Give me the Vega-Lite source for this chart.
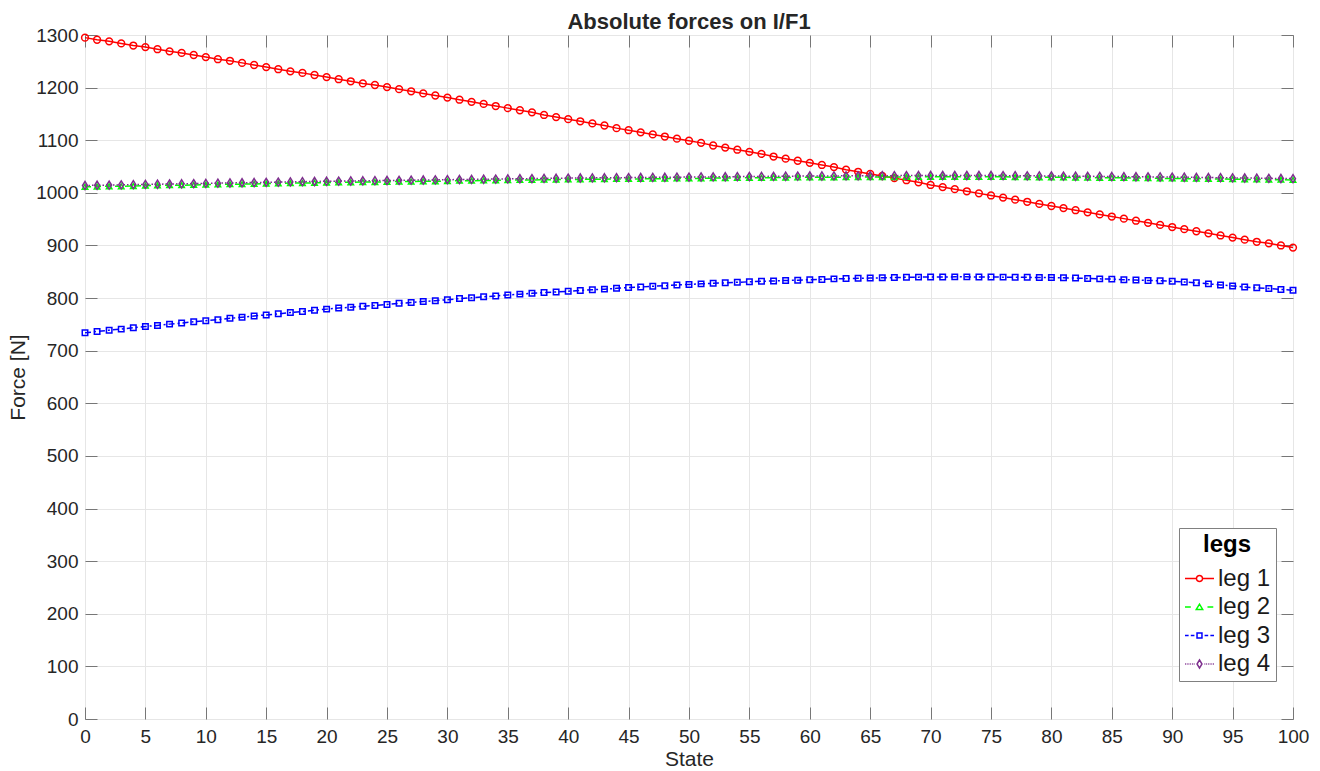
{
"$schema":"https://vega.github.io/schema/vega-lite/v6.json",
"width":1208,"height":684,
"autosize":{"type":"none"},
"padding":{"left":85,"top":35,"right":27,"bottom":53},
"background":"white",
"title":{"text":"Absolute forces on I/F1","fontSize":22,"fontWeight":"bold","font":"Liberation Sans","color":"#262626","anchor":"middle","offset":-8},
"config":{"font":"Liberation Sans","view":{"stroke":"#777","strokeWidth":1}},
"datasets":{"d":[
{"state":0,"leg":"leg 1","force":1295},{"state":1,"leg":"leg 1","force":1291},{"state":2,"leg":"leg 1","force":1288},{"state":3,"leg":"leg 1","force":1284},{"state":4,"leg":"leg 1","force":1280},{"state":5,"leg":"leg 1","force":1277},{"state":6,"leg":"leg 1","force":1273},{"state":7,"leg":"leg 1","force":1269},{"state":8,"leg":"leg 1","force":1266},{"state":9,"leg":"leg 1","force":1262},
{"state":10,"leg":"leg 1","force":1258},{"state":11,"leg":"leg 1","force":1254},{"state":12,"leg":"leg 1","force":1251},{"state":13,"leg":"leg 1","force":1247},{"state":14,"leg":"leg 1","force":1243},{"state":15,"leg":"leg 1","force":1239},{"state":16,"leg":"leg 1","force":1235},{"state":17,"leg":"leg 1","force":1231},{"state":18,"leg":"leg 1","force":1228},{"state":19,"leg":"leg 1","force":1224},
{"state":20,"leg":"leg 1","force":1220},{"state":21,"leg":"leg 1","force":1216},{"state":22,"leg":"leg 1","force":1212},{"state":23,"leg":"leg 1","force":1208},{"state":24,"leg":"leg 1","force":1205},{"state":25,"leg":"leg 1","force":1201},{"state":26,"leg":"leg 1","force":1197},{"state":27,"leg":"leg 1","force":1193},{"state":28,"leg":"leg 1","force":1189},{"state":29,"leg":"leg 1","force":1185},
{"state":30,"leg":"leg 1","force":1181},{"state":31,"leg":"leg 1","force":1177},{"state":32,"leg":"leg 1","force":1173},{"state":33,"leg":"leg 1","force":1169},{"state":34,"leg":"leg 1","force":1165},{"state":35,"leg":"leg 1","force":1161},{"state":36,"leg":"leg 1","force":1157},{"state":37,"leg":"leg 1","force":1153},{"state":38,"leg":"leg 1","force":1148},{"state":39,"leg":"leg 1","force":1144},
{"state":40,"leg":"leg 1","force":1140},{"state":41,"leg":"leg 1","force":1136},{"state":42,"leg":"leg 1","force":1132},{"state":43,"leg":"leg 1","force":1128},{"state":44,"leg":"leg 1","force":1123},{"state":45,"leg":"leg 1","force":1119},{"state":46,"leg":"leg 1","force":1115},{"state":47,"leg":"leg 1","force":1111},{"state":48,"leg":"leg 1","force":1107},{"state":49,"leg":"leg 1","force":1103},
{"state":50,"leg":"leg 1","force":1099},{"state":51,"leg":"leg 1","force":1095},{"state":52,"leg":"leg 1","force":1090},{"state":53,"leg":"leg 1","force":1086},{"state":54,"leg":"leg 1","force":1082},{"state":55,"leg":"leg 1","force":1078},{"state":56,"leg":"leg 1","force":1074},{"state":57,"leg":"leg 1","force":1069},{"state":58,"leg":"leg 1","force":1065},{"state":59,"leg":"leg 1","force":1061},
{"state":60,"leg":"leg 1","force":1057},{"state":61,"leg":"leg 1","force":1053},{"state":62,"leg":"leg 1","force":1049},{"state":63,"leg":"leg 1","force":1044},{"state":64,"leg":"leg 1","force":1040},{"state":65,"leg":"leg 1","force":1036},{"state":66,"leg":"leg 1","force":1032},{"state":67,"leg":"leg 1","force":1028},{"state":68,"leg":"leg 1","force":1024},{"state":69,"leg":"leg 1","force":1020},
{"state":70,"leg":"leg 1","force":1015},{"state":71,"leg":"leg 1","force":1011},{"state":72,"leg":"leg 1","force":1007},{"state":73,"leg":"leg 1","force":1003},{"state":74,"leg":"leg 1","force":999},{"state":75,"leg":"leg 1","force":995},{"state":76,"leg":"leg 1","force":991},{"state":77,"leg":"leg 1","force":987},{"state":78,"leg":"leg 1","force":983},{"state":79,"leg":"leg 1","force":979},
{"state":80,"leg":"leg 1","force":975},{"state":81,"leg":"leg 1","force":971},{"state":82,"leg":"leg 1","force":967},{"state":83,"leg":"leg 1","force":963},{"state":84,"leg":"leg 1","force":959},{"state":85,"leg":"leg 1","force":955},{"state":86,"leg":"leg 1","force":951},{"state":87,"leg":"leg 1","force":947},{"state":88,"leg":"leg 1","force":943},{"state":89,"leg":"leg 1","force":939},
{"state":90,"leg":"leg 1","force":935},{"state":91,"leg":"leg 1","force":931},{"state":92,"leg":"leg 1","force":927},{"state":93,"leg":"leg 1","force":923},{"state":94,"leg":"leg 1","force":919},{"state":95,"leg":"leg 1","force":915},{"state":96,"leg":"leg 1","force":911},{"state":97,"leg":"leg 1","force":907},{"state":98,"leg":"leg 1","force":904},{"state":99,"leg":"leg 1","force":900},{"state":100,"leg":"leg 1","force":896},
{"state":0,"leg":"leg 2","force":1011.5},{"state":1,"leg":"leg 2","force":1012},{"state":2,"leg":"leg 2","force":1012.5},{"state":3,"leg":"leg 2","force":1012.5},{"state":4,"leg":"leg 2","force":1013},{"state":5,"leg":"leg 2","force":1013.5},{"state":6,"leg":"leg 2","force":1014},{"state":7,"leg":"leg 2","force":1014.5},{"state":8,"leg":"leg 2","force":1014.5},{"state":9,"leg":"leg 2","force":1015},
{"state":10,"leg":"leg 2","force":1015.5},{"state":11,"leg":"leg 2","force":1016},{"state":12,"leg":"leg 2","force":1016.5},{"state":13,"leg":"leg 2","force":1016.5},{"state":14,"leg":"leg 2","force":1017},{"state":15,"leg":"leg 2","force":1017.5},{"state":16,"leg":"leg 2","force":1018},{"state":17,"leg":"leg 2","force":1018.5},{"state":18,"leg":"leg 2","force":1018.5},{"state":19,"leg":"leg 2","force":1019},
{"state":20,"leg":"leg 2","force":1019.5},{"state":21,"leg":"leg 2","force":1020},{"state":22,"leg":"leg 2","force":1020},{"state":23,"leg":"leg 2","force":1020.5},{"state":24,"leg":"leg 2","force":1020.5},{"state":25,"leg":"leg 2","force":1021},{"state":26,"leg":"leg 2","force":1021.5},{"state":27,"leg":"leg 2","force":1021.5},{"state":28,"leg":"leg 2","force":1022},{"state":29,"leg":"leg 2","force":1022},
{"state":30,"leg":"leg 2","force":1022.5},{"state":31,"leg":"leg 2","force":1023},{"state":32,"leg":"leg 2","force":1023},{"state":33,"leg":"leg 2","force":1023.5},{"state":34,"leg":"leg 2","force":1023.5},{"state":35,"leg":"leg 2","force":1024},{"state":36,"leg":"leg 2","force":1024.5},{"state":37,"leg":"leg 2","force":1024.5},{"state":38,"leg":"leg 2","force":1025},{"state":39,"leg":"leg 2","force":1025},
{"state":40,"leg":"leg 2","force":1025.5},{"state":41,"leg":"leg 2","force":1025.5},{"state":42,"leg":"leg 2","force":1026},{"state":43,"leg":"leg 2","force":1026},{"state":44,"leg":"leg 2","force":1026.5},{"state":45,"leg":"leg 2","force":1026.5},{"state":46,"leg":"leg 2","force":1026.5},{"state":47,"leg":"leg 2","force":1027},{"state":48,"leg":"leg 2","force":1027},{"state":49,"leg":"leg 2","force":1027.5},
{"state":50,"leg":"leg 2","force":1027.5},{"state":51,"leg":"leg 2","force":1027.5},{"state":52,"leg":"leg 2","force":1028},{"state":53,"leg":"leg 2","force":1028},{"state":54,"leg":"leg 2","force":1028.5},{"state":55,"leg":"leg 2","force":1028.5},{"state":56,"leg":"leg 2","force":1028.5},{"state":57,"leg":"leg 2","force":1029},{"state":58,"leg":"leg 2","force":1029},{"state":59,"leg":"leg 2","force":1029.5},
{"state":60,"leg":"leg 2","force":1029.5},{"state":61,"leg":"leg 2","force":1029.5},{"state":62,"leg":"leg 2","force":1029.5},{"state":63,"leg":"leg 2","force":1030},{"state":64,"leg":"leg 2","force":1030},{"state":65,"leg":"leg 2","force":1030},{"state":66,"leg":"leg 2","force":1030},{"state":67,"leg":"leg 2","force":1030},{"state":68,"leg":"leg 2","force":1030.5},{"state":69,"leg":"leg 2","force":1030.5},
{"state":70,"leg":"leg 2","force":1030.5},{"state":71,"leg":"leg 2","force":1030.5},{"state":72,"leg":"leg 2","force":1030.5},{"state":73,"leg":"leg 2","force":1030.5},{"state":74,"leg":"leg 2","force":1030.5},{"state":75,"leg":"leg 2","force":1030.5},{"state":76,"leg":"leg 2","force":1030.5},{"state":77,"leg":"leg 2","force":1030},{"state":78,"leg":"leg 2","force":1030},{"state":79,"leg":"leg 2","force":1029.5},
{"state":80,"leg":"leg 2","force":1029.5},{"state":81,"leg":"leg 2","force":1029.5},{"state":82,"leg":"leg 2","force":1029},{"state":83,"leg":"leg 2","force":1029},{"state":84,"leg":"leg 2","force":1028.5},{"state":85,"leg":"leg 2","force":1028.5},{"state":86,"leg":"leg 2","force":1028.5},{"state":87,"leg":"leg 2","force":1028},{"state":88,"leg":"leg 2","force":1028},{"state":89,"leg":"leg 2","force":1027.5},
{"state":90,"leg":"leg 2","force":1027.5},{"state":91,"leg":"leg 2","force":1027},{"state":92,"leg":"leg 2","force":1027},{"state":93,"leg":"leg 2","force":1026.5},{"state":94,"leg":"leg 2","force":1026.5},{"state":95,"leg":"leg 2","force":1026},{"state":96,"leg":"leg 2","force":1025.5},{"state":97,"leg":"leg 2","force":1025.5},{"state":98,"leg":"leg 2","force":1025},{"state":99,"leg":"leg 2","force":1025},{"state":100,"leg":"leg 2","force":1024.5},
{"state":0,"leg":"leg 3","force":734},{"state":1,"leg":"leg 3","force":736.5},{"state":2,"leg":"leg 3","force":739},{"state":3,"leg":"leg 3","force":741},{"state":4,"leg":"leg 3","force":743.5},{"state":5,"leg":"leg 3","force":746},{"state":6,"leg":"leg 3","force":748},{"state":7,"leg":"leg 3","force":750.5},{"state":8,"leg":"leg 3","force":752.5},{"state":9,"leg":"leg 3","force":755},
{"state":10,"leg":"leg 3","force":757},{"state":11,"leg":"leg 3","force":759},{"state":12,"leg":"leg 3","force":761.5},{"state":13,"leg":"leg 3","force":763.5},{"state":14,"leg":"leg 3","force":766},{"state":15,"leg":"leg 3","force":768},{"state":16,"leg":"leg 3","force":770},{"state":17,"leg":"leg 3","force":772.5},{"state":18,"leg":"leg 3","force":774.5},{"state":19,"leg":"leg 3","force":777},
{"state":20,"leg":"leg 3","force":779},{"state":21,"leg":"leg 3","force":781},{"state":22,"leg":"leg 3","force":782.5},{"state":23,"leg":"leg 3","force":784.5},{"state":24,"leg":"leg 3","force":786},{"state":25,"leg":"leg 3","force":788},{"state":26,"leg":"leg 3","force":790},{"state":27,"leg":"leg 3","force":791.5},{"state":28,"leg":"leg 3","force":793.5},{"state":29,"leg":"leg 3","force":795},
{"state":30,"leg":"leg 3","force":797},{"state":31,"leg":"leg 3","force":799},{"state":32,"leg":"leg 3","force":800.5},{"state":33,"leg":"leg 3","force":802.5},{"state":34,"leg":"leg 3","force":804},{"state":35,"leg":"leg 3","force":806},{"state":36,"leg":"leg 3","force":807.5},{"state":37,"leg":"leg 3","force":809},{"state":38,"leg":"leg 3","force":810.5},{"state":39,"leg":"leg 3","force":811.5},
{"state":40,"leg":"leg 3","force":813},{"state":41,"leg":"leg 3","force":814.5},{"state":42,"leg":"leg 3","force":816},{"state":43,"leg":"leg 3","force":817},{"state":44,"leg":"leg 3","force":818.5},{"state":45,"leg":"leg 3","force":820},{"state":46,"leg":"leg 3","force":821},{"state":47,"leg":"leg 3","force":822.5},{"state":48,"leg":"leg 3","force":823.5},{"state":49,"leg":"leg 3","force":825},
{"state":50,"leg":"leg 3","force":826},{"state":51,"leg":"leg 3","force":827},{"state":52,"leg":"leg 3","force":828},{"state":53,"leg":"leg 3","force":829},{"state":54,"leg":"leg 3","force":830},{"state":55,"leg":"leg 3","force":831},{"state":56,"leg":"leg 3","force":832},{"state":57,"leg":"leg 3","force":832.5},{"state":58,"leg":"leg 3","force":833.5},{"state":59,"leg":"leg 3","force":834},
{"state":60,"leg":"leg 3","force":835},{"state":61,"leg":"leg 3","force":835.5},{"state":62,"leg":"leg 3","force":836.5},{"state":63,"leg":"leg 3","force":837},{"state":64,"leg":"leg 3","force":837.5},{"state":65,"leg":"leg 3","force":838},{"state":66,"leg":"leg 3","force":838.5},{"state":67,"leg":"leg 3","force":839},{"state":68,"leg":"leg 3","force":839.5},{"state":69,"leg":"leg 3","force":839.8},
{"state":70,"leg":"leg 3","force":840},{"state":71,"leg":"leg 3","force":840.2},{"state":72,"leg":"leg 3","force":840.3},{"state":73,"leg":"leg 3","force":840.3},{"state":74,"leg":"leg 3","force":840.2},{"state":75,"leg":"leg 3","force":840},{"state":76,"leg":"leg 3","force":839.8},{"state":77,"leg":"leg 3","force":839.6},{"state":78,"leg":"leg 3","force":839.4},{"state":79,"leg":"leg 3","force":839.2},
{"state":80,"leg":"leg 3","force":839},{"state":81,"leg":"leg 3","force":838.5},{"state":82,"leg":"leg 3","force":838},{"state":83,"leg":"leg 3","force":837.2},{"state":84,"leg":"leg 3","force":836.5},{"state":85,"leg":"leg 3","force":836},{"state":86,"leg":"leg 3","force":835},{"state":87,"leg":"leg 3","force":834.3},{"state":88,"leg":"leg 3","force":833.5},{"state":89,"leg":"leg 3","force":832.8},
{"state":90,"leg":"leg 3","force":832},{"state":91,"leg":"leg 3","force":830.5},{"state":92,"leg":"leg 3","force":829},{"state":93,"leg":"leg 3","force":827},{"state":94,"leg":"leg 3","force":825},{"state":95,"leg":"leg 3","force":823},{"state":96,"leg":"leg 3","force":821},{"state":97,"leg":"leg 3","force":819.5},{"state":98,"leg":"leg 3","force":818},{"state":99,"leg":"leg 3","force":816.5},{"state":100,"leg":"leg 3","force":815},
{"state":0,"leg":"leg 4","force":1014},{"state":1,"leg":"leg 4","force":1014.4},{"state":2,"leg":"leg 4","force":1014.8},{"state":3,"leg":"leg 4","force":1015.2},{"state":4,"leg":"leg 4","force":1015.6},{"state":5,"leg":"leg 4","force":1016},{"state":6,"leg":"leg 4","force":1016.4},{"state":7,"leg":"leg 4","force":1016.8},{"state":8,"leg":"leg 4","force":1017.2},{"state":9,"leg":"leg 4","force":1017.6},
{"state":10,"leg":"leg 4","force":1018},{"state":11,"leg":"leg 4","force":1018.4},{"state":12,"leg":"leg 4","force":1018.8},{"state":13,"leg":"leg 4","force":1019.2},{"state":14,"leg":"leg 4","force":1019.6},{"state":15,"leg":"leg 4","force":1020},{"state":16,"leg":"leg 4","force":1020.4},{"state":17,"leg":"leg 4","force":1020.8},{"state":18,"leg":"leg 4","force":1021.2},{"state":19,"leg":"leg 4","force":1021.6},
{"state":20,"leg":"leg 4","force":1022},{"state":21,"leg":"leg 4","force":1022.3},{"state":22,"leg":"leg 4","force":1022.6},{"state":23,"leg":"leg 4","force":1022.9},{"state":24,"leg":"leg 4","force":1023.2},{"state":25,"leg":"leg 4","force":1023.5},{"state":26,"leg":"leg 4","force":1023.8},{"state":27,"leg":"leg 4","force":1024.1},{"state":28,"leg":"leg 4","force":1024.4},{"state":29,"leg":"leg 4","force":1024.7},
{"state":30,"leg":"leg 4","force":1025},{"state":31,"leg":"leg 4","force":1025.3},{"state":32,"leg":"leg 4","force":1025.6},{"state":33,"leg":"leg 4","force":1025.9},{"state":34,"leg":"leg 4","force":1026.2},{"state":35,"leg":"leg 4","force":1026.5},{"state":36,"leg":"leg 4","force":1026.8},{"state":37,"leg":"leg 4","force":1027.1},{"state":38,"leg":"leg 4","force":1027.4},{"state":39,"leg":"leg 4","force":1027.7},
{"state":40,"leg":"leg 4","force":1028},{"state":41,"leg":"leg 4","force":1028.2},{"state":42,"leg":"leg 4","force":1028.4},{"state":43,"leg":"leg 4","force":1028.6},{"state":44,"leg":"leg 4","force":1028.8},{"state":45,"leg":"leg 4","force":1029},{"state":46,"leg":"leg 4","force":1029.2},{"state":47,"leg":"leg 4","force":1029.4},{"state":48,"leg":"leg 4","force":1029.6},{"state":49,"leg":"leg 4","force":1029.8},
{"state":50,"leg":"leg 4","force":1030},{"state":51,"leg":"leg 4","force":1030.2},{"state":52,"leg":"leg 4","force":1030.4},{"state":53,"leg":"leg 4","force":1030.6},{"state":54,"leg":"leg 4","force":1030.8},{"state":55,"leg":"leg 4","force":1031},{"state":56,"leg":"leg 4","force":1031.2},{"state":57,"leg":"leg 4","force":1031.4},{"state":58,"leg":"leg 4","force":1031.6},{"state":59,"leg":"leg 4","force":1031.8},
{"state":60,"leg":"leg 4","force":1032},{"state":61,"leg":"leg 4","force":1032.1},{"state":62,"leg":"leg 4","force":1032.2},{"state":63,"leg":"leg 4","force":1032.3},{"state":64,"leg":"leg 4","force":1032.4},{"state":65,"leg":"leg 4","force":1032.5},{"state":66,"leg":"leg 4","force":1032.6},{"state":67,"leg":"leg 4","force":1032.7},{"state":68,"leg":"leg 4","force":1032.8},{"state":69,"leg":"leg 4","force":1032.9},
{"state":70,"leg":"leg 4","force":1033},{"state":71,"leg":"leg 4","force":1033},{"state":72,"leg":"leg 4","force":1033},{"state":73,"leg":"leg 4","force":1033},{"state":74,"leg":"leg 4","force":1033},{"state":75,"leg":"leg 4","force":1033},{"state":76,"leg":"leg 4","force":1032.8},{"state":77,"leg":"leg 4","force":1032.6},{"state":78,"leg":"leg 4","force":1032.4},{"state":79,"leg":"leg 4","force":1032.2},
{"state":80,"leg":"leg 4","force":1032},{"state":81,"leg":"leg 4","force":1031.8},{"state":82,"leg":"leg 4","force":1031.6},{"state":83,"leg":"leg 4","force":1031.4},{"state":84,"leg":"leg 4","force":1031.2},{"state":85,"leg":"leg 4","force":1031},{"state":86,"leg":"leg 4","force":1030.8},{"state":87,"leg":"leg 4","force":1030.6},{"state":88,"leg":"leg 4","force":1030.4},{"state":89,"leg":"leg 4","force":1030.2},
{"state":90,"leg":"leg 4","force":1030},{"state":91,"leg":"leg 4","force":1029.7},{"state":92,"leg":"leg 4","force":1029.4},{"state":93,"leg":"leg 4","force":1029.1},{"state":94,"leg":"leg 4","force":1028.8},{"state":95,"leg":"leg 4","force":1028.5},{"state":96,"leg":"leg 4","force":1028.2},{"state":97,"leg":"leg 4","force":1027.9},{"state":98,"leg":"leg 4","force":1027.6},{"state":99,"leg":"leg 4","force":1027.3},{"state":100,"leg":"leg 4","force":1027}
]},
"data":{"name":"d"},
"resolve":{"axis":{"x":"independent","y":"independent"}},
"layer":[
{"mark":{"type":"point","opacity":0,"filled":false,"strokeWidth":1.5},
 "encoding":{
  "x":{"field":"state","type":"quantitative","scale":{"domain":[0,100],"nice":false,"zero":false},
   "axis":{"orient":"bottom","values":[0,5,10,15,20,25,30,35,40,45,50,55,60,65,70,75,80,85,90,95,100],"format":"d","title":"State","titleFontSize":21,"titleFontWeight":"normal","titleColor":"#262626","titlePadding":2,"labelFontSize":19,"labelColor":"#262626","labelFlush":false,"labelOverlap":false,"tickSize":-12,"tickColor":"#777","labelPadding":20,"domain":false,"grid":true,"gridColor":"#e6e6e6"}},
  "y":{"field":"force","type":"quantitative","scale":{"domain":[0,1300],"nice":false,"zero":false},
   "axis":{"orient":"left","values":[0,100,200,300,400,500,600,700,800,900,1000,1100,1200,1300],"format":"d","title":"Force [N]","titleFontSize":21,"titleFontWeight":"normal","titleColor":"#262626","titlePadding":7,"labelFontSize":19,"labelColor":"#262626","labelOverlap":false,"labelFlush":false,"tickSize":-12,"tickColor":"#777","labelPadding":19,"domain":false,"grid":true,"gridColor":"#e6e6e6"}},
  "color":{"field":"leg","type":"nominal","scale":{"domain":["leg 1","leg 2","leg 3","leg 4"],"range":["#ff0000","#00ff00","#0000ff","#7e2f8e"]},
   "legend":{"title":"legs","orient":"none","legendX":1094,"legendY":493,"strokeColor":"#808080","fillColor":"white","padding":5,"titleFontSize":24,"titleFontWeight":"bold","titleColor":"#000000","titleAnchor":"middle","titlePadding":6,"labelFontSize":24,"labelColor":"#1a1a1a","labelOffset":3,"symbolSize":841,"symbolStrokeWidth":1.5,"symbolOpacity":1,"rowPadding":0.5}},
  "shape":{"field":"leg","type":"nominal","scale":{"domain":["leg 1","leg 2","leg 3","leg 4"],"range":[
   "M-1,0H-0.21M0.21,0H1M-0.21,0A0.21,0.21,0,1,1,0.21,0A0.21,0.21,0,1,1,-0.21,0Z",
   "M-1,0H-0.6M0.55,0H0.95M-0.22,0.17L0,-0.2L0.22,0.17Z",
   "M-1,0H-0.75M-0.6,0H-0.35M0.35,0H0.6M0.75,0H1M-0.17,-0.17H0.17V0.17H-0.17Z",
   "M-1,0H-0.94M-0.88,0H-0.82M-0.76,0H-0.7M-0.64,0H-0.58M-0.52,0H-0.46M-0.4,0H-0.34M0.34,0H0.4M0.46,0H0.52M0.58,0H0.64M0.7,0H0.76M0.82,0H0.88M0.94,0H1M0,-0.28L0.17,0L0,0.28L-0.17,0Z"]},
   "legend":{"title":"legs"}}
 }},
{"transform":[{"filter":"datum.leg === 'leg 1'"}],"mark":{"type":"line","color":"#ff0000","strokeWidth":1.5},
 "encoding":{"x":{"field":"state","type":"quantitative","axis":null},"y":{"field":"force","type":"quantitative","axis":null}}},
{"transform":[{"filter":"datum.leg === 'leg 1'"}],"mark":{"type":"point","shape":"circle","filled":false,"color":"#ff0000","strokeWidth":1.5,"size":46,"opacity":1},
 "encoding":{"x":{"field":"state","type":"quantitative","axis":null},"y":{"field":"force","type":"quantitative","axis":null}}},
{"transform":[{"filter":"datum.leg === 'leg 2'"}],"mark":{"type":"line","color":"#00ff00","strokeWidth":1.5,"strokeDash":[6,4]},
 "encoding":{"x":{"field":"state","type":"quantitative","axis":null},"y":{"field":"force","type":"quantitative","axis":null}}},
{"transform":[{"filter":"datum.leg === 'leg 2'"}],"mark":{"type":"point","shape":"triangle-up","filled":false,"color":"#00ff00","strokeWidth":1.5,"size":30,"opacity":1},
 "encoding":{"x":{"field":"state","type":"quantitative","axis":null},"y":{"field":"force","type":"quantitative","axis":null}}},
{"transform":[{"filter":"datum.leg === 'leg 3'"}],"mark":{"type":"line","color":"#0000ff","strokeWidth":1.5,"strokeDash":[6,3,2,3]},
 "encoding":{"x":{"field":"state","type":"quantitative","axis":null},"y":{"field":"force","type":"quantitative","axis":null}}},
{"transform":[{"filter":"datum.leg === 'leg 3'"}],"mark":{"type":"point","shape":"square","filled":false,"color":"#0000ff","strokeWidth":1.5,"size":30,"opacity":1},
 "encoding":{"x":{"field":"state","type":"quantitative","axis":null},"y":{"field":"force","type":"quantitative","axis":null}}},
{"transform":[{"filter":"datum.leg === 'leg 4'"}],"mark":{"type":"line","color":"#7e2f8e","strokeWidth":1.5,"strokeDash":[1.5,2]},
 "encoding":{"x":{"field":"state","type":"quantitative","axis":null},"y":{"field":"force","type":"quantitative","axis":null}}},
{"transform":[{"filter":"datum.leg === 'leg 4'"}],"mark":{"type":"point","shape":"M0,-1L0.62,0L0,1L-0.62,0Z","filled":false,"color":"#7e2f8e","strokeWidth":1.5,"size":64,"opacity":1},
 "encoding":{"x":{"field":"state","type":"quantitative","axis":null},"y":{"field":"force","type":"quantitative","axis":null}}},
{"transform":[{"filter":"datum.state === 0 && datum.leg === 'leg 1'"}],"mark":{"type":"point","opacity":0},
 "encoding":{
  "x":{"field":"state","type":"quantitative","axis":{"orient":"top","values":[0,5,10,15,20,25,30,35,40,45,50,55,60,65,70,75,80,85,90,95,100],"labels":false,"title":null,"tickSize":-12,"tickColor":"#777","domain":false,"grid":false}},
  "y":{"field":"force","type":"quantitative","axis":{"orient":"right","values":[0,100,200,300,400,500,600,700,800,900,1000,1100,1200,1300],"labels":false,"title":null,"tickSize":-12,"tickColor":"#777","domain":false,"grid":false}}}}
]
}
